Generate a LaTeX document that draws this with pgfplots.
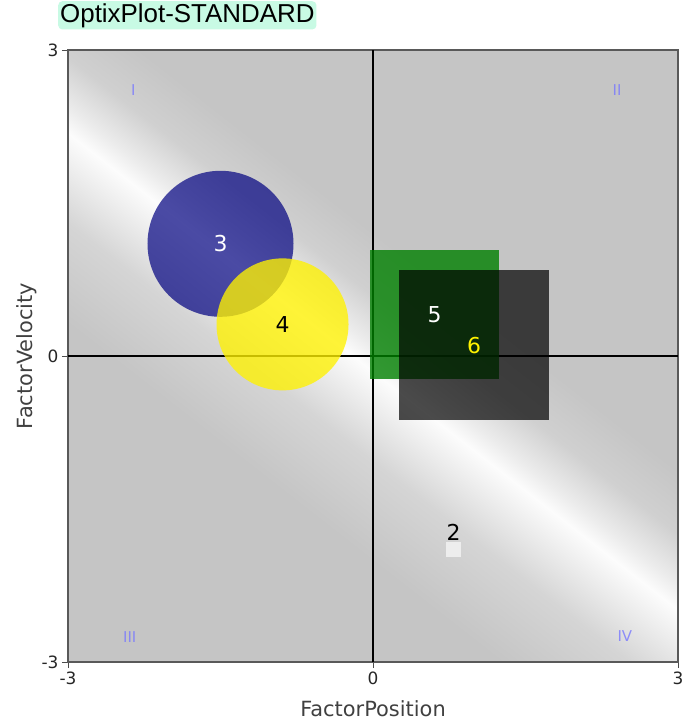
\documentclass[border=0pt]{standalone}
\usepackage{pgfplots}
\pgfplotsset{compat=1.18}
\usepackage{fontspec}
\setmainfont{DejaVu Sans}
\newfontfamily\titlefont{Liberation Sans}
\definecolor{bgA}{RGB}{197,197,197}
\definecolor{bgB}{RGB}{213,213,213}
\definecolor{bgC}{RGB}{238,238,238}
\definecolor{bgD}{RGB}{252,252,252}
\definecolor{bgE}{RGB}{236,236,236}
\definecolor{bgF}{RGB}{208,208,208}
\pgfdeclarehorizontalshading{bgshade}{100bp}{color(0bp)=(bgA); color(36.7bp)=(bgA); color(43.2bp)=(bgB); color(46.9bp)=(bgC); color(49bp)=(bgD); color(50.6bp)=(bgE); color(53.9bp)=(bgF); color(58bp)=(bgA); color(100bp)=(bgA)}
\definecolor{navyc}{RGB}{0,0,128}
\definecolor{greenc}{RGB}{0,128,0}
\definecolor{quad}{RGB}{120,120,255}
\definecolor{titlebg}{RGB}{200,250,228}
\begin{document}
\begin{tikzpicture}
\begin{axis}[
  scale only axis, width=610bp, height=612bp,
  xmin=-3, xmax=3, ymin=-3, ymax=3,
  xtick={-3,0,3}, ytick={-3,0,3},
  xticklabels={-3,0,3}, yticklabels={-3,0,3},
  xtick pos=bottom, ytick pos=left,
  tick align=outside, major tick length=6bp,
  tick style={color=black!70, line width=0.8bp},
  ticklabel style={font=\fontsize{17}{20}\selectfont, color=black!85},
  axis line style={color=black!65, line width=1.2bp},
  axis background/.style={shade, shading=bgshade, shading angle=52},
  xlabel={FactorPosition}, ylabel={FactorVelocity},
  label style={font=\fontsize{21}{25}\selectfont, color=black!75},
  xlabel style={at={(axis description cs:0.5,0)}, anchor=base, yshift=-54bp},
  ylabel style={at={(axis description cs:-0.0574,0.5)}, anchor=base},
  title={\titlefont OptixPlot-STANDARD},
  title style={at={(axis description cs:0,1)}, anchor=base west, xshift=-10bp, yshift=22bp, font=\fontsize{26}{30}\selectfont, fill=titlebg, inner sep=2bp, rounded corners=4bp},
]
% center lines
\addplot[black, line width=1.2bp] coordinates {(0,-3) (0,3)};
\addplot[black, line width=1.2bp] coordinates {(-3,0) (3,0)};
% point 2
\addplot[only marks, mark=square*, mark size=7.3bp, mark options={draw opacity=0, fill=black!7}] coordinates {(0.792,-1.899)};
% bubble 3
\addplot[only marks, mark=*, mark size=73bp, mark options={draw opacity=0, fill=navyc, fill opacity=0.7}] coordinates {(-1.50,1.10)};
% bubble 4
\addplot[only marks, mark=*, mark size=66bp, mark options={draw opacity=0, fill=yellow, fill opacity=0.78}] coordinates {(-0.89,0.31)};
% square 5
\addplot[only marks, mark=square*, mark size=64.5bp, mark options={draw opacity=0, fill=greenc, fill opacity=0.8}] coordinates {(0.605,0.407)};
% square 6
\addplot[only marks, mark=square*, mark size=74.8bp, mark options={draw opacity=0, fill=black, fill opacity=0.7}] coordinates {(0.995,0.105)};
% labels
\addplot[draw=none, nodes near coords, point meta=explicit symbolic,
  nodes near coords style={anchor=center, font=\fontsize{22}{26}\selectfont, text=white}]
  coordinates {(-1.50,1.10)[3] (0.605,0.407)[5]};
\addplot[draw=none, nodes near coords, point meta=explicit symbolic,
  nodes near coords style={anchor=center, font=\fontsize{22}{26}\selectfont, text=black}]
  coordinates {(-0.89,0.31)[4]};
\addplot[draw=none, nodes near coords, point meta=explicit symbolic,
  nodes near coords style={anchor=center, font=\fontsize{22}{26}\selectfont, text=yellow}]
  coordinates {(0.995,0.105)[6]};
\addplot[draw=none, nodes near coords, point meta=explicit symbolic,
  nodes near coords style={anchor=base, yshift=9.5bp, inner sep=0pt, font=\fontsize{22}{26}\selectfont, text=black}]
  coordinates {(0.792,-1.899)[2]};
% quadrant labels
\addplot[draw=none, nodes near coords, point meta=explicit symbolic,
  nodes near coords style={anchor=center, font=\fontsize{15}{18}\selectfont, text=quad, text opacity=0.8}]
  coordinates {(-2.358,2.608)[I] (2.40,2.608)[II] (-2.393,-2.752)[III] (2.477,-2.75)[IV]};
\end{axis}
\pgfresetboundingbox
\useasboundingbox ([shift={(-68bp,-58bp)}]current axis.south west) rectangle ([shift={(6bp,50bp)}]current axis.north east);
\end{tikzpicture}
\end{document}
